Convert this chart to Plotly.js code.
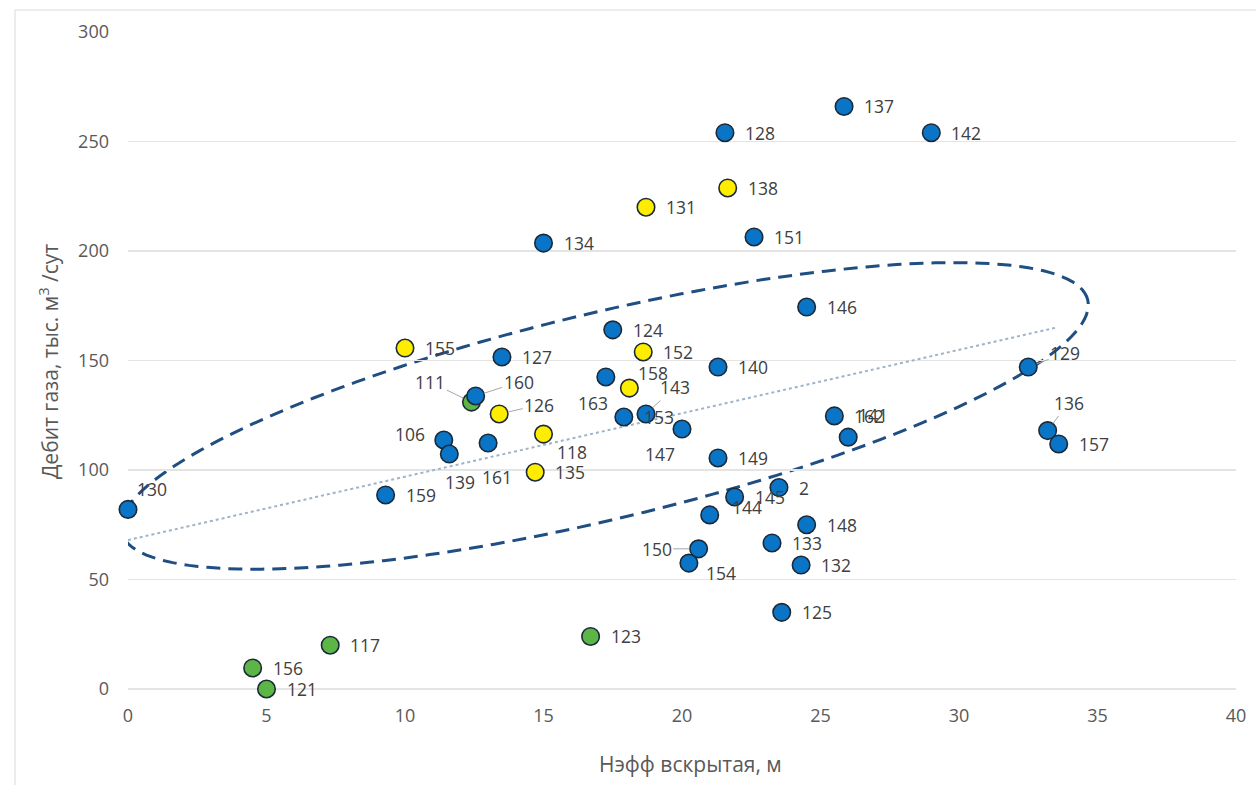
<!DOCTYPE html>
<html>
<head>
<meta charset="utf-8">
<script src="https://cdn.plot.ly/plotly-3.0.1.min.js"></script>
<style>
  html, body { margin: 0; padding: 0; background: #ffffff; }
  #chart { width: 1256px; height: 785px; }
</style>
</head>
<body>
<div id="chart"></div>
<script>
// Well data: effective opened thickness (m) vs gas rate (thousand m3/day)
const blueLabels = ['130','159','106','139','160','161','127','134','124','163','153','143','147','140','149','128','151','137','142','146','162','141','129','136','157','2','145','144','148','133','132','150','154','125'];
const blueX = [0, 9.3, 11.4, 11.6, 12.55, 13.0, 13.5, 15.0, 17.5, 17.25, 17.9, 18.7, 20.0, 21.3, 21.3, 21.55, 22.6, 25.85, 29.0, 24.5, 25.5, 26.0, 32.5, 33.2, 33.6, 23.5, 21.9, 21.0, 24.5, 23.25, 24.3, 20.6, 20.25, 23.6];
const blueY = [82, 88.6, 113.7, 107.3, 133.8, 112.3, 151.6, 203.6, 164, 142.5, 124.2, 125.6, 118.7, 147, 105.5, 254, 206.4, 266, 254, 174.4, 124.7, 115, 147, 118, 111.9, 92, 87.7, 79.5, 75, 66.7, 56.6, 64, 57.5, 35];

const yellowLabels = ['155','126','118','135','131','138','152','158'];
const yellowX = [10.0, 13.4, 15.0, 14.7, 18.7, 21.65, 18.6, 18.1];
const yellowY = [155.7, 125.6, 116.4, 99, 220, 228.8, 153.9, 137.4];

const greenLabels = ['156','121','117','123','111'];
const greenX = [4.5, 5.0, 7.3, 16.7, 12.4];
const greenY = [9.6, 0, 20, 24, 131];

// Linear trend drawn across the data range
const trendX = [0, 33.5];
const trendY = [68, 165];

// Axis ticks
const xTicks = [0, 5, 10, 15, 20, 25, 30, 35, 40];
const yTicks = [0, 50, 100, 150, 200, 250, 300];

// ---- layout geometry ----
const W = 1256, H = 785;
const M = { l: 128, r: 20, t: 32, b: 96 };
const plotW = W - M.l - M.r, plotH = H - M.t - M.b;
const xRange = [0, 40], yRange = [0, 300];
const pxPerX = plotW / (xRange[1] - xRange[0]);
const pxPerY = plotH / (yRange[1] - yRange[0]);

// Label placement tweaks (screen px, label centre relative to its point)
const labelShift = {
  '111': { dx: -41, dy: -20, leader: true },
  '160': { dx: 43, dy: -14, leader: true },
  '126': { dx: 40, dy: -9, leader: true },
  '143': { dx: 29, dy: -27, leader: true },
  '129': { dx: 37, dy: -14, leader: true },
  '136': { dx: 21, dy: -28, leader: true },
  '150': { dx: -42, dy: 0, leader: true },
  '163': { dx: -13, dy: 26 },
  '147': { dx: -22, dy: 25 },
  '118': { dx: 28, dy: 18 },
  '139': { dx: 11, dy: 28 },
  '161': { dx: 9, dy: 34 },
  '106': { dx: -34, dy: -6 },
  '158': { dx: 24, dy: -15 },
  '144': { dx: 37, dy: -8 },
  '154': { dx: 32, dy: 10 },
  '141': { dx: 25, dy: -22 },
  '130': { dx: 24, dy: -20 }
};

const labelFont = { family: 'Open Sans, sans-serif', size: 17.5, color: '#404040' };

function makeLabels(xs, ys, labels) {
  return labels.map((t, i) => {
    const s = labelShift[t];
    const base = { x: xs[i], y: ys[i], xref: 'x', yref: 'y', text: t, font: labelFont };
    if (s && s.leader) {
      return Object.assign(base, {
        showarrow: true, ax: s.dx, ay: s.dy, arrowhead: 0, arrowwidth: 1,
        arrowcolor: '#a6a6a6', standoff: 9, xanchor: 'center', yanchor: 'middle'
      });
    }
    if (s) {
      return Object.assign(base, {
        showarrow: false, xanchor: 'center', yanchor: 'middle', xshift: s.dx, yshift: -s.dy
      });
    }
    return Object.assign(base, { showarrow: false, xanchor: 'left', yanchor: 'middle', xshift: 18 });
  });
}

// Dashed ellipse outlining the main cluster (centre in data units, axes in px)
const ell = { cx: 17.2, cy: 124.7, a: 497, b: 103, angleDeg: 13.5 };
function ellipsePath(e) {
  const phi = e.angleDeg * Math.PI / 180;
  const pts = [];
  for (let k = 0; k <= 180; k++) {
    const t = 2 * Math.PI * k / 180;
    const u = e.a * Math.cos(t), v = e.b * Math.sin(t);
    const dxp = u * Math.cos(phi) - v * Math.sin(phi);
    const dyp = u * Math.sin(phi) + v * Math.cos(phi);
    pts.push([e.cx + dxp / pxPerX, e.cy + dyp / pxPerY]);
  }
  return 'M' + pts.map(p => p[0].toFixed(4) + ',' + p[1].toFixed(3)).join('L') + 'Z';
}

const markerLine = { color: '#1c2a38', width: 1.6 };
const traces = [
  {
    x: trendX, y: trendY, mode: 'lines', type: 'scatter', hoverinfo: 'skip',
    line: { color: '#9fb3c8', width: 2, dash: 'dot' }, showlegend: false
  },
  {
    x: greenX, y: greenY, mode: 'markers', type: 'scatter', cliponaxis: false,
    marker: { size: 17.5, color: '#5cb646', line: markerLine }, showlegend: false
  },
  {
    x: yellowX, y: yellowY, mode: 'markers', type: 'scatter', cliponaxis: false,
    marker: { size: 17.5, color: '#ffed00', line: markerLine }, showlegend: false
  },
  {
    x: blueX, y: blueY, mode: 'markers', type: 'scatter', cliponaxis: false,
    marker: { size: 17.5, color: '#0a74c6', line: markerLine }, showlegend: false
  }
];

const tickFont = { family: 'Open Sans, sans-serif', size: 18, color: '#595959' };
const titleFont = { family: 'Open Sans, sans-serif', size: 21, color: '#595959' };

const annotations = []
  .concat(makeLabels(greenX, greenY, greenLabels))
  .concat(makeLabels(yellowX, yellowY, yellowLabels))
  .concat(makeLabels(blueX, blueY, blueLabels))
  .concat([
    {
      xref: 'paper', yref: 'paper', x: (690 - M.l) / plotW, y: -(764 - M.t - plotH) / plotH,
      text: 'Нэфф вскрытая, м', showarrow: false, font: titleFont,
      xanchor: 'center', yanchor: 'middle'
    },
    {
      xref: 'paper', yref: 'paper', x: (48 - M.l) / plotW, y: (M.t + plotH - 362) / plotH,
      text: 'Дебит газа, тыс. м<sup>3</sup> /сут', showarrow: false, font: titleFont,
      textangle: -90, xanchor: 'center', yanchor: 'middle'
    }
  ]);

const layout = {
  width: W, height: H,
  margin: M,
  paper_bgcolor: '#ffffff', plot_bgcolor: '#ffffff',
  showlegend: false,
  font: { family: 'Open Sans, sans-serif' },
  xaxis: {
    range: xRange, tickvals: xTicks, ticktext: xTicks.map(String),
    showgrid: false, zeroline: false, showline: false, ticks: '',
    tickfont: tickFont, ticklabelstandoff: 14, fixedrange: true
  },
  yaxis: {
    range: yRange, tickvals: yTicks, ticktext: yTicks.map(String),
    showgrid: true, gridcolor: '#e4e4e4', gridwidth: 1.5,
    zeroline: true, zerolinecolor: '#e4e4e4', zerolinewidth: 1.5,
    showline: false, ticks: '', tickfont: tickFont, ticklabelstandoff: 18, fixedrange: true
  },
  shapes: [
    {
      type: 'path', xref: 'x', yref: 'y', layer: 'below', path: ellipsePath(ell),
      line: { color: '#1f4e82', width: 3, dash: '14px,8px' }, fillcolor: 'rgba(0,0,0,0)'
    },
    // chart frame
    {
      type: 'line', xref: 'paper', yref: 'paper',
      x0: (15 - M.l) / plotW, x1: (W + 5 - M.l) / plotW,
      y0: (M.t + plotH - 10) / plotH, y1: (M.t + plotH - 10) / plotH,
      line: { color: '#d9d9d9', width: 1 }
    },
    {
      type: 'line', xref: 'paper', yref: 'paper',
      x0: (15 - M.l) / plotW, x1: (15 - M.l) / plotW,
      y0: (M.t + plotH - 10) / plotH, y1: (M.t + plotH - H - 5) / plotH,
      line: { color: '#d9d9d9', width: 1 }
    }
  ],
  annotations: annotations
};

Plotly.newPlot('chart', traces, layout, { staticPlot: true, displayModeBar: false });
</script>
</body>
</html>
